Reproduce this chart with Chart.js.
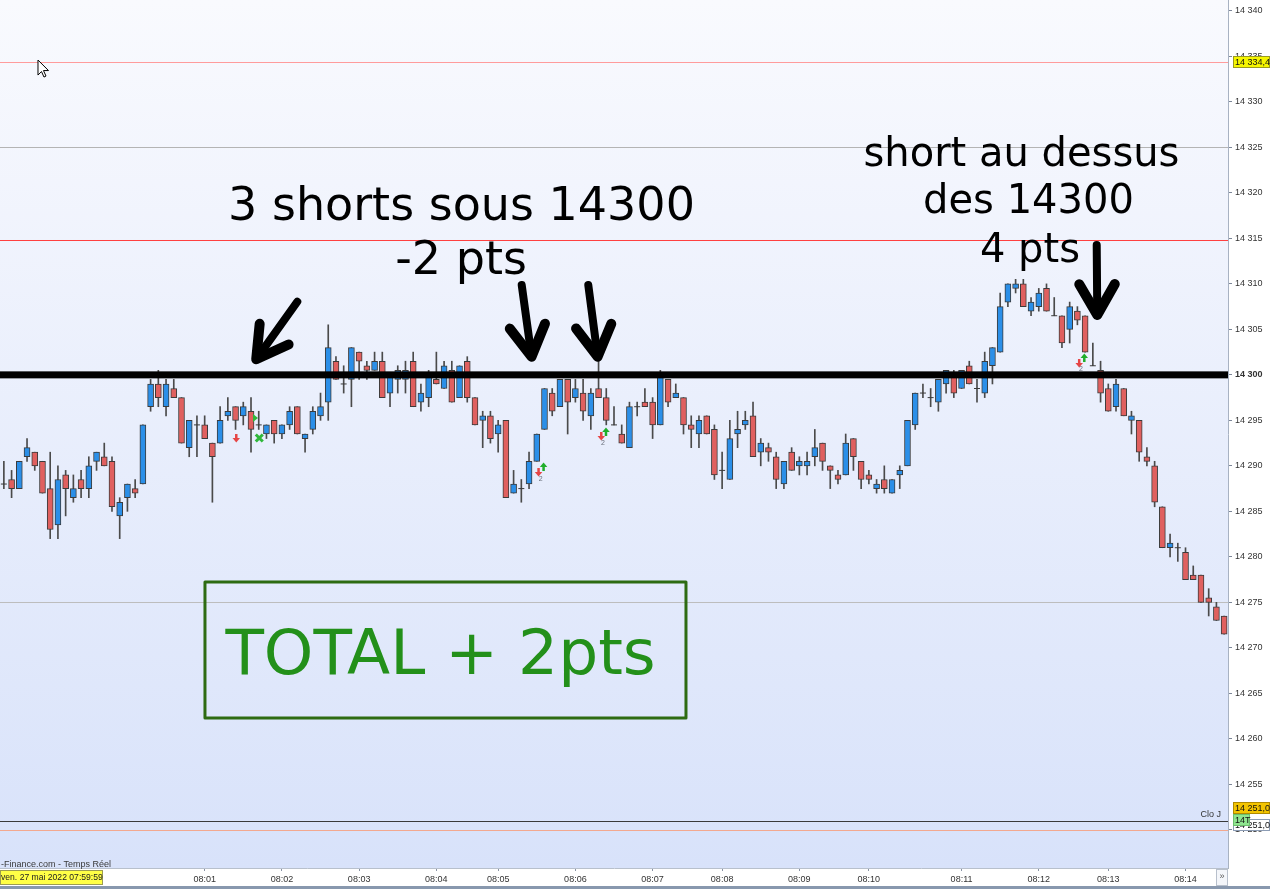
<!DOCTYPE html>
<html>
<head>
<meta charset="utf-8">
<title>Shorts 14300</title>
<script src="https://cdn.jsdelivr.net/npm/chart.js@4.4.1/dist/chart.umd.min.js"></script>
<style>
  html, body { margin: 0; padding: 0; background: #fff; overflow: hidden; }
  canvas { display: block; }
</style>
</head>
<body>
<canvas id="chart" width="1270" height="889"></canvas>
<script>
// Candles, oldest first (one bar per slot)
const opens = [
  14288, 14288.5, 14287.5, 14291, 14291.5, 14290.5, 14287.5, 14283.5, 14289, 14286.5,
  14288.5, 14287.5, 14290.5, 14291, 14290.5, 14284.5, 14286.5, 14287.5, 14288, 14296.5,
  14299, 14296.5, 14298.5, 14297.5, 14292, 14294.5, 14294.5, 14292.5, 14292.5, 14295.5,
  14296.5, 14295.5, 14296, 14294.5, 14293.5, 14295, 14293.5, 14294.5, 14296.5, 14293,
  14294, 14295.5, 14297, 14301.5, 14299, 14299.5, 14302.5, 14301, 14300.5, 14301.5,
  14298, 14299.5, 14299.5, 14301.5, 14297, 14297.5, 14299.5, 14298.5, 14300.5, 14297.5,
  14301.5, 14297.5, 14295, 14295.5, 14293.5, 14295, 14287, 14287.5, 14288, 14290.5,
  14294, 14298, 14296.5, 14299.5, 14297.5, 14298, 14295.5, 14298.5, 14297.5, 14294.5,
  14293.5, 14292, 14296.5, 14297, 14297, 14294.5, 14299.5, 14297.5, 14297.5, 14294.5,
  14293.5, 14295.5, 14294, 14289.5, 14288.5, 14293.5, 14294.5, 14295.5, 14291.5, 14292,
  14291, 14288, 14291.5, 14290, 14290, 14291, 14292.5, 14290, 14289, 14289,
  14293, 14290.5, 14289, 14287.5, 14288.5, 14287, 14289, 14290, 14294.5, 14298,
  14297.5, 14297, 14299, 14300, 14298.5, 14301, 14298.5, 14298, 14301, 14302.5,
  14308, 14309.5, 14310, 14307, 14307.5, 14309.5, 14306.5, 14306.5, 14305, 14307,
  14306.5, 14301, 14300.5, 14298.5, 14296.5, 14298.5, 14295, 14295, 14291, 14290,
  14285.5, 14281, 14281, 14280.5, 14278, 14278, 14275.5, 14274.5, 14273.5
];
const highs = [
  14290.5, 14289.5, 14290.5, 14293, 14291.5, 14290.5, 14291.5, 14290, 14289.5, 14289,
  14289.5, 14291, 14291.5, 14292.5, 14291, 14286.5, 14288, 14288.5, 14294.5, 14299.5,
  14300.5, 14299.5, 14299.5, 14297.5, 14295, 14295.5, 14295.5, 14292.5, 14296.5, 14297.5,
  14296.5, 14297, 14297.5, 14296, 14294.5, 14295, 14294.5, 14296.5, 14296.5, 14293.5,
  14296.5, 14298, 14305.5, 14302, 14301, 14303, 14302.5, 14301.5, 14302.5, 14302.5,
  14300, 14301, 14301.5, 14302.5, 14299, 14300.5, 14302.5, 14301.5, 14301.5, 14301,
  14302, 14297.5, 14296, 14296, 14295, 14295, 14289.5, 14288.5, 14291.5, 14293.5,
  14298.5, 14298.5, 14299.5, 14299.5, 14299.5, 14299.5, 14298.5, 14301.5, 14298.5, 14296.5,
  14294.5, 14297, 14297, 14298.5, 14297.5, 14300.5, 14299.5, 14299, 14297.5, 14295.5,
  14295.5, 14295.5, 14294.5, 14291.5, 14295, 14296, 14296, 14297, 14293, 14292.5,
  14291.5, 14290.5, 14292, 14291, 14291.5, 14294, 14292.5, 14290, 14289.5, 14293.5,
  14293, 14290.5, 14289.5, 14288.5, 14290, 14288.5, 14290, 14295, 14298, 14299,
  14298.5, 14299.5, 14300.5, 14300.5, 14300.5, 14301.5, 14299.5, 14302.5, 14303, 14309,
  14310, 14310.5, 14310.5, 14308.5, 14309.5, 14310, 14308.5, 14306.5, 14308, 14307.5,
  14306.5, 14303.5, 14301.5, 14299, 14299.5, 14298.5, 14296, 14295, 14292, 14290.5,
  14285.5, 14282.5, 14281.5, 14281, 14279, 14278, 14276.5, 14275, 14273.5
];
const lows = [
  14287.5, 14286.5, 14287.5, 14290.5, 14289.5, 14287, 14282, 14282, 14284.5, 14286,
  14286.5, 14286.5, 14289.5, 14290, 14285, 14282, 14285, 14286.5, 14288, 14296,
  14296.5, 14295.5, 14297.5, 14292.5, 14291, 14291, 14293, 14286, 14292.5, 14295,
  14294, 14294.5, 14291.5, 14294, 14293, 14292.5, 14293, 14294, 14293.5, 14291.5,
  14293.5, 14295, 14295, 14299.5, 14298, 14296.5, 14299.5, 14299.5, 14300.5, 14297.5,
  14296.5, 14298, 14298, 14296.5, 14296, 14296.5, 14299, 14298.5, 14297, 14297.5,
  14297, 14294.5, 14292, 14292.5, 14291.5, 14286.5, 14287, 14286, 14287.5, 14290.5,
  14294, 14295.5, 14296.5, 14293.5, 14297, 14295, 14294, 14297.5, 14294.5, 14294.5,
  14292.5, 14292, 14295.5, 14296.5, 14293, 14294.5, 14296.5, 14297.5, 14293.5, 14292,
  14292, 14293.5, 14288.5, 14287.5, 14288.5, 14292, 14294, 14291, 14290, 14290.5,
  14287.5, 14287.5, 14289.5, 14289, 14289, 14290, 14289.5, 14287.5, 14288, 14289,
  14289.5, 14287.5, 14288, 14287, 14287, 14287, 14287.5, 14290, 14294, 14297.5,
  14296.5, 14296, 14298, 14297.5, 14298.5, 14299, 14297, 14297.5, 14299, 14302.5,
  14307.5, 14309, 14307.5, 14306.5, 14307, 14307, 14306.5, 14303, 14303.5, 14305.5,
  14302.5, 14301, 14297, 14296, 14296, 14295.5, 14293.5, 14290.5, 14290, 14285.5,
  14281, 14280, 14279.5, 14277.5, 14277.5, 14275, 14273.5, 14273, 14271.5
];
const closes = [
  14288, 14287.5, 14290.5, 14292, 14290, 14287, 14283, 14288.5, 14287.5, 14287.5,
  14287.5, 14290, 14291.5, 14290, 14285.5, 14286, 14288, 14287, 14294.5, 14299,
  14297.5, 14299, 14297.5, 14292.5, 14295, 14294.5, 14293, 14291, 14295, 14296,
  14295, 14296.5, 14294, 14294.5, 14294.5, 14293.5, 14294.5, 14296, 14293.5, 14293.5,
  14296, 14296.5, 14303, 14299.5, 14299, 14303, 14301.5, 14300.5, 14301.5, 14297.5,
  14300, 14300.5, 14300.5, 14296.5, 14298, 14300, 14299, 14301, 14297, 14301,
  14297.5, 14294.5, 14295.5, 14293, 14294.5, 14286.5, 14288, 14287.5, 14290.5, 14293.5,
  14298.5, 14296, 14299.5, 14297, 14298.5, 14296, 14298, 14297.5, 14295, 14294.5,
  14292.5, 14296.5, 14296.5, 14296.5, 14294.5, 14300, 14297, 14298, 14294.5, 14294,
  14295, 14293.5, 14289, 14289.5, 14293, 14294, 14295, 14291, 14292.5, 14291.5,
  14288.5, 14290.5, 14289.5, 14290.5, 14290.5, 14292, 14290.5, 14289.5, 14288.5, 14292.5,
  14291, 14288.5, 14288.5, 14288, 14287.5, 14288.5, 14289.5, 14295, 14298, 14298,
  14297.5, 14299.5, 14300.5, 14298, 14300.5, 14299, 14298.5, 14301.5, 14303, 14307.5,
  14310, 14310, 14307.5, 14308, 14309, 14307, 14306.5, 14303.5, 14307.5, 14306,
  14302.5, 14301, 14298, 14296, 14299, 14295.5, 14295.5, 14291.5, 14290.5, 14286,
  14281, 14281.5, 14281, 14277.5, 14277.5, 14275, 14275, 14273, 14271.5
];

// time axis: bar slot of each minute label
const timeIdx = [26, 36, 46, 56, 64, 74, 84, 93, 103, 112, 124, 134, 143, 153];
const timeLabels = ['08:01', '08:02', '08:03', '08:04', '08:05', '08:06', '08:07',
                    '08:08', '08:09', '08:10', '08:11', '08:12', '08:13', '08:14'];
// price axis ticks
const priceTicks = [14250, 14255, 14260, 14265, 14270, 14275, 14280, 14285, 14290, 14295,
                    14300, 14305, 14310, 14315, 14320, 14325, 14330, 14335, 14340];

// horizontal levels drawn on the chart
const levelValues = [14334.4, 14325, 14314.8, 14275, 14251, 14250];
const levelColors = ['#ff9c9c', '#b4b4b4', '#ff4040', '#bdbdbd', '#3a3a3a', '#f3a88e'];
const keyLevel = 14300;

// hand-written notes (slot index, price of baseline)
const noteTexts = ['3 shorts sous 14300', '-2 pts', 'short au dessus', 'des 14300', '4 pts'];
const noteIdx = [59.25, 59.2, 131.76, 132.67, 132.86];
const noteVal = [14317.02, 14311.09, 14322.99, 14317.79, 14312.44];
const noteSize = [46, 46, 40, 40, 40];

// arrows: tail -> tip
const arrowFromIdx = [37.99, 67.05, 75.67, 141.5];
const arrowFromVal = [14308.04, 14309.88, 14309.88, 14314.27];
const arrowToIdx = [32.3, 68.42, 76.97, 141.58];
const arrowToVal = [14301.27, 14301.45, 14301.45, 14306.03];

// result box
const totalText = 'TOTAL + 2pts';
const totalBoxIdx = [26.04, 88.32];
const totalBoxVal = [14277.23, 14262.29];
const totalTextAt = [56.54, 14267.12];

// order markers from the platform
const sellIdx = [30.06, 69.2, 77.32, 139.2];
const sellVal = [14293.17, 14289.43, 14293.39, 14301.41];
const buyIdx = [69.85, 77.93, 139.86];
const buyVal = [14289.76, 14293.61, 14301.74];
const qtyIdx = [69.5, 77.58, 139.47];
const qtyVal = [14288.55, 14292.51, 14300.64];
const exitIdx = [33.07];
const exitVal = [14293.06];
const flagIdx = [32.52];
const flagVal = [14295.26];

const BLUE = '#2b8fe8';
const RED = '#e0605f';
const EDGE = '#3b3b3b';
const SMALL = '"Liberation Sans", Arial, sans-serif';
const BIG = '"DejaVu Sans", Verdana, sans-serif';

const wicks = [], bodies = [], bodyColors = [], dojis = [];
for (let i = 0; i < opens.length; i++) {
  wicks.push({x: i, y: [lows[i], highs[i]]});
  if (opens[i] === closes[i]) {
    dojis.push({x: i, y: opens[i]});
  } else {
    bodies.push({x: i, y: [opens[i], closes[i]]});
    bodyColors.push(closes[i] > opens[i] ? BLUE : RED);
  }
}

function fmtPrice(v) {
  const s = String(v);
  return s.slice(0, s.length - 3) + ' ' + s.slice(s.length - 3);
}

// hand-drawn style arrow: thick shaft and a heavy open head
function drawArrow(ctx, x0, y0, x1, y1) {
  const ang = Math.atan2(y0 - y1, x0 - x1);
  const head = 40, spread = 0.46;
  ctx.strokeStyle = '#000';
  ctx.lineCap = 'round';
  ctx.lineJoin = 'round';
  ctx.lineWidth = 8;
  ctx.beginPath();
  ctx.moveTo(x0, y0);
  ctx.lineTo(x1 + 6 * Math.cos(ang), y1 + 6 * Math.sin(ang));
  ctx.stroke();
  ctx.lineWidth = 10;
  ctx.beginPath();
  ctx.moveTo(x1 + head * Math.cos(ang - spread), y1 + head * Math.sin(ang - spread));
  ctx.lineTo(x1 + 5 * Math.cos(ang), y1 + 5 * Math.sin(ang));
  ctx.lineTo(x1 + head * Math.cos(ang + spread), y1 + head * Math.sin(ang + spread));
  ctx.stroke();
}

function smallArrow(ctx, x, y, color, up) {
  const d = up ? -1 : 1;
  ctx.fillStyle = color;
  ctx.fillRect(x - 1, y - 4 * d, 2.5, 4 * d);
  ctx.beginPath();
  ctx.moveTo(x - 3.5, y);
  ctx.lineTo(x + 4, y);
  ctx.lineTo(x + 0.25, y + 4.5 * d);
  ctx.closePath();
  ctx.fill();
}

const overlay = {
  id: 'overlay',
  beforeDraw(chart) {
    const {ctx, chartArea: a, width, height} = chart;
    ctx.save();
    ctx.fillStyle = '#ffffff';
    ctx.fillRect(0, 0, width, height);
    const g = ctx.createLinearGradient(0, a.top, 0, a.bottom);
    g.addColorStop(0, '#f9fafe');
    g.addColorStop(1, '#d8e2fa');
    ctx.fillStyle = g;
    ctx.fillRect(a.left, a.top, a.right - a.left, a.bottom - a.top);
    ctx.fillStyle = '#8898ae';
    ctx.fillRect(0, height - 3, width, 3);
    ctx.restore();
  },
  beforeDatasetsDraw(chart) {
    const {ctx, chartArea: a, scales: {y}} = chart;
    ctx.save();
    ctx.lineWidth = 1;
    levelValues.forEach((v, k) => {
      const py = Math.round(y.getPixelForValue(v)) + 0.5;
      ctx.strokeStyle = levelColors[k];
      ctx.beginPath();
      ctx.moveTo(a.left, py);
      ctx.lineTo(a.right, py);
      ctx.stroke();
    });
    ctx.restore();
  },
  afterDatasetsDraw(chart) {
    const {ctx, chartArea: a, scales: {x, y}} = chart;
    ctx.save();
    // key level, drawn over the candles
    const ky = y.getPixelForValue(keyLevel);
    ctx.fillStyle = '#000';
    ctx.fillRect(a.left, ky - 3.5, a.right - a.left, 7);

    // platform order markers
    sellIdx.forEach((i, k) => smallArrow(ctx, x.getPixelForValue(i), y.getPixelForValue(sellVal[k]) + 1, '#e64545', false));
    buyIdx.forEach((i, k) => smallArrow(ctx, x.getPixelForValue(i), y.getPixelForValue(buyVal[k]) - 1, '#1fae2a', true));
    ctx.fillStyle = '#6a6f7a';
    ctx.font = '7px ' + SMALL;
    ctx.textAlign = 'center';
    ctx.textBaseline = 'middle';
    qtyIdx.forEach((i, k) => ctx.fillText('2', x.getPixelForValue(i), y.getPixelForValue(qtyVal[k])));
    ctx.strokeStyle = '#2fb83a';
    ctx.lineWidth = 3;
    exitIdx.forEach((i, k) => {
      const cx = x.getPixelForValue(i), cy = y.getPixelForValue(exitVal[k]);
      ctx.beginPath();
      ctx.moveTo(cx - 3.5, cy - 3.5); ctx.lineTo(cx + 3.5, cy + 3.5);
      ctx.moveTo(cx + 3.5, cy - 3.5); ctx.lineTo(cx - 3.5, cy + 3.5);
      ctx.stroke();
    });
    ctx.fillStyle = '#2fb83a';
    flagIdx.forEach((i, k) => {
      const cx = x.getPixelForValue(i), cy = y.getPixelForValue(flagVal[k]);
      ctx.beginPath();
      ctx.moveTo(cx - 2, cy - 4); ctx.lineTo(cx + 3, cy); ctx.lineTo(cx - 2, cy + 4);
      ctx.closePath();
      ctx.fill();
    });

    // arrows
    arrowFromIdx.forEach((i, k) => drawArrow(ctx,
      x.getPixelForValue(i), y.getPixelForValue(arrowFromVal[k]),
      x.getPixelForValue(arrowToIdx[k]), y.getPixelForValue(arrowToVal[k])));

    // notes
    ctx.fillStyle = '#000';
    ctx.textAlign = 'center';
    ctx.textBaseline = 'alphabetic';
    noteTexts.forEach((t, k) => {
      ctx.font = noteSize[k] + 'px ' + BIG;
      ctx.fillText(t, x.getPixelForValue(noteIdx[k]), y.getPixelForValue(noteVal[k]));
    });

    // result box
    const bx0 = x.getPixelForValue(totalBoxIdx[0]), bx1 = x.getPixelForValue(totalBoxIdx[1]);
    const by0 = y.getPixelForValue(totalBoxVal[0]), by1 = y.getPixelForValue(totalBoxVal[1]);
    ctx.strokeStyle = '#2d6b12';
    ctx.lineWidth = 3;
    ctx.strokeRect(bx0, by0, bx1 - bx0, by1 - by0);
    ctx.fillStyle = '#23901a';
    ctx.font = '63px ' + BIG;
    ctx.fillText(totalText, x.getPixelForValue(totalTextAt[0]), y.getPixelForValue(totalTextAt[1]));
    ctx.restore();
  },
  afterDraw(chart) {
    const {ctx, chartArea: a, scales: {y}, width, height} = chart;
    ctx.save();
    ctx.font = '9px ' + SMALL;
    ctx.textBaseline = 'middle';

    // price tags on the axis
    const tag = (v, text, bg, border, x0, w) => {
      const cy = Math.round(y.getPixelForValue(v));
      ctx.fillStyle = bg;
      ctx.fillRect(x0, cy - 6, w, 12);
      ctx.strokeStyle = border;
      ctx.lineWidth = 1;
      ctx.strokeRect(x0 + 0.5, cy - 5.5, w - 1, 11);
      ctx.fillStyle = '#111';
      ctx.textAlign = 'left';
      ctx.fillText(text, x0 + 2, cy + 0.5);
    };
    tag(14334.4, '14 334,4', '#f6f600', '#9a9a20', a.right + 5, width - a.right - 5);
    tag(14252.35, '14 251,0', '#f3c400', '#b08a00', a.right + 5, width - a.right - 5);
    tag(14250.5, '14 251,0', '#ffffff', '#8c9cb4', a.right + 5, width - a.right - 5);
    tag(14251.05, '14T', '#8fe58f', '#6cbf6c', a.right + 5, 17);

    // small captions
    ctx.fillStyle = '#333';
    ctx.textAlign = 'right';
    ctx.fillText('Clo J', a.right - 7, y.getPixelForValue(14251.7));
    ctx.textAlign = 'left';
    ctx.fillStyle = '#3a3a3a';
    ctx.fillText('-Finance.com - Temps Réel', 1, a.bottom - 3);

    // date stamp on the time axis
    ctx.fillStyle = '#ffff46';
    ctx.fillRect(0, a.bottom + 2, 103, 15);
    ctx.strokeStyle = '#9c9c50';
    ctx.strokeRect(0.5, a.bottom + 2.5, 102, 14);
    ctx.fillStyle = '#222';
    ctx.font = '8.6px ' + SMALL;
    ctx.fillText('ven. 27 mai 2022 07:59:59', 1, a.bottom + 10);
    ctx.font = '9px ' + SMALL;

    // scroll button
    ctx.fillStyle = '#f4f6fa';
    ctx.fillRect(a.right - 12, a.bottom + 1, 12, height - a.bottom - 4);
    ctx.strokeStyle = '#b8c0cc';
    ctx.strokeRect(a.right - 11.5, a.bottom + 1.5, 11, height - a.bottom - 5);
    ctx.fillStyle = '#555';
    ctx.textAlign = 'center';
    ctx.fillText('\u00bb', a.right - 6, a.bottom + 9);

    // mouse pointer
    const cx = chart.scales.x.getPixelForValue(4.42), cy = y.getPixelForValue(14334.6);
    ctx.beginPath();
    ctx.moveTo(cx, cy);
    ctx.lineTo(cx, cy + 15);
    ctx.lineTo(cx + 3.5, cy + 11.5);
    ctx.lineTo(cx + 6, cy + 17);
    ctx.lineTo(cx + 8, cy + 16);
    ctx.lineTo(cx + 5.5, cy + 10.5);
    ctx.lineTo(cx + 10.5, cy + 10.5);
    ctx.closePath();
    ctx.fillStyle = '#fff';
    ctx.fill();
    ctx.strokeStyle = '#000';
    ctx.lineWidth = 1;
    ctx.stroke();
    ctx.restore();
  }
};

new Chart(document.getElementById('chart'), {
  type: 'bar',
  data: {
    datasets: [
      {
        label: 'wick',
        data: wicks,
        backgroundColor: '#4a4a4a',
        barThickness: 1,
        grouped: false,
        order: 3
      },
      {
        label: 'body',
        data: bodies,
        backgroundColor: bodyColors,
        borderColor: EDGE,
        borderWidth: 1,
        borderSkipped: false,
        barThickness: 6,
        grouped: false,
        order: 2
      },
      {
        type: 'scatter',
        label: 'doji',
        data: dojis,
        pointStyle: 'line',
        pointRadius: 3,
        borderColor: EDGE,
        borderWidth: 1,
        order: 1
      }
    ]
  },
  options: {
    responsive: false,
    animation: false,
    events: [],
    layout: {autoPadding: false, padding: {left: 0, right: 0, top: 0, bottom: 3}},
    plugins: {legend: {display: false}, tooltip: {enabled: false}},
    scales: {
      x: {
        type: 'linear',
        min: -0.5,
        max: 158.5,
        offset: false,
        grid: {offset: false, drawOnChartArea: false, tickLength: 3, color: '#8a94a6'},
        border: {color: '#b8c0cc'},
        afterBuildTicks: s => { s.ticks = timeIdx.map(v => ({value: v})); },
        afterFit: s => { s.height = 18; s.paddingLeft = 0; s.paddingRight = 0; },
        ticks: {
          autoSkip: false,
          maxRotation: 0,
          padding: 3,
          color: '#333',
          font: {family: SMALL, size: 9},
          callback: v => timeLabels[timeIdx.indexOf(v)]
        }
      },
      y: {
        position: 'right',
        min: 14245.8,
        max: 14341.2,
        grid: {drawOnChartArea: false, tickLength: 4, color: '#7c8698'},
        border: {color: '#a8b2c2'},
        afterBuildTicks: s => { s.ticks = priceTicks.map(v => ({value: v})); },
        afterFit: s => { s.width = 42; s.paddingTop = 0; s.paddingBottom = 0; },
        ticks: {
          padding: 3,
          color: '#333',
          font: c => ({family: SMALL, size: 9, weight: c.tick && c.tick.value === keyLevel ? 'bold' : 'normal'}),
          callback: v => fmtPrice(v)
        }
      }
    }
  },
  plugins: [overlay]
});
</script>
</body>
</html>
